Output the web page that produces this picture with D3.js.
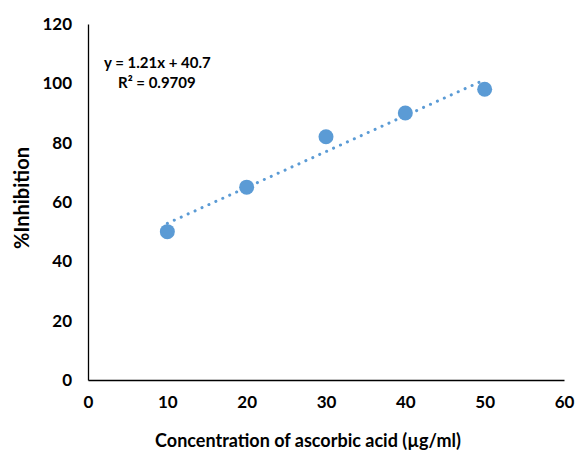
<!DOCTYPE html>
<html>
<head>
<meta charset="utf-8">
<script src="https://cdn.jsdelivr.net/npm/d3@7"></script>
<style>
  body { margin: 0; background: #fff; }
  svg text { font-family: Lato, "Open Sans", sans-serif; font-weight: bold; fill: #000; }
</style>
</head>
<body>
<div id="chart"></div>
<script>
// data
var concentration = [10, 20, 30, 40, 50];
var inhibition = [50, 65, 82, 90, 98];
var xTicks = [0, 10, 20, 30, 40, 50, 60];
var yTicks = [0, 20, 40, 60, 80, 100, 120];
var trendSlope = 1.21, trendIntercept = 40.7;
var equationText = ["y = 1.21x + 40.7", "R\u00b2 = 0.9709"];

var width = 576, height = 453;
var margin = {top: 24, right: 12, bottom: 73, left: 88};

var x = d3.scaleLinear().domain([0, 60]).range([margin.left, width - margin.right]);
var y = d3.scaleLinear().domain([0, 120]).range([height - margin.bottom, margin.top]);

var svg = d3.select("#chart").append("svg")
    .attr("width", width)
    .attr("height", height);

// x axis
var xAxis = svg.append("g")
    .attr("transform", "translate(0," + y(0) + ")")
    .call(d3.axisBottom(x).tickValues(xTicks).tickSize(0).tickPadding(16));
xAxis.select(".domain").attr("stroke", "#000").attr("stroke-width", 1.3);
xAxis.selectAll("text").style("font-size", "17px");

// y axis
var yAxis = svg.append("g")
    .attr("transform", "translate(" + x(0) + ",0)")
    .call(d3.axisLeft(y).tickValues(yTicks).tickSize(0).tickPadding(16));
yAxis.select(".domain").attr("stroke", "#000").attr("stroke-width", 1.3);
yAxis.selectAll("text").style("font-size", "17px");

// trend line
var trendPts = [10, 50].map(function(c) { return [c, trendSlope * c + trendIntercept]; });
svg.append("path")
    .attr("d", d3.line()
        .x(function(d) { return x(d[0]); })
        .y(function(d) { return y(d[1]); })(trendPts))
    .attr("fill", "none")
    .attr("stroke", "#5B9BD5")
    .attr("stroke-width", 3)
    .attr("stroke-linecap", "round")
    .attr("stroke-dasharray", "0.1 7.5");

// points
svg.append("g").selectAll("circle")
    .data(concentration)
    .enter().append("circle")
    .attr("cx", function(d) { return x(d); })
    .attr("cy", function(d, i) { return y(inhibition[i]); })
    .attr("r", 7.5)
    .attr("fill", "#5B9BD5");

// equation
svg.append("text")
    .attr("x", 104).attr("y", 68)
    .style("font-size", "15px")
    .text(equationText[0]);
svg.append("text")
    .attr("x", 118).attr("y", 88)
    .style("font-size", "15px")
    .text(equationText[1]);

// axis titles
svg.append("text")
    .attr("x", 308).attr("y", 447)
    .attr("text-anchor", "middle")
    .style("font-size", "18px")
    .text("Concentration of ascorbic acid (\u00b5g/ml)");

svg.append("text")
    .attr("transform", "translate(29," + 198 + ") rotate(-90)")
    .attr("text-anchor", "middle")
    .style("font-size", "20px")
    .text("%Inhibition");
</script>
</body>
</html>
